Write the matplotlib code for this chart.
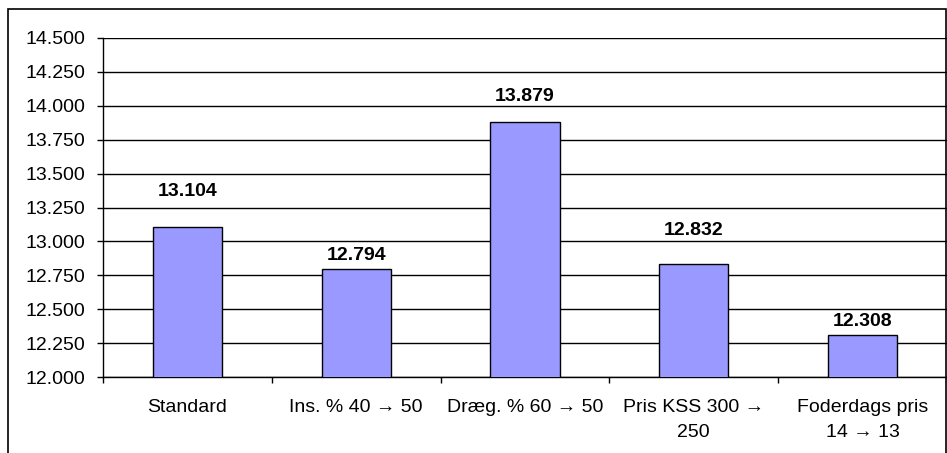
import numpy as np
import matplotlib.pyplot as plt
from matplotlib.patches import Rectangle
from matplotlib.ticker import FixedLocator, FuncFormatter

plt.rcParams['font.family'] = ['Liberation Sans', 'DejaVu Sans']

# scenario names and result per scenario
categories = ["Standard", "Ins. % 40 \u2192 50", "Dr\u00e6g. % 60 \u2192 50",
              "Pris KSS 300 \u2192\n250", "Foderdags pris\n14 \u2192 13"]
values = [13104, 12794, 13879, 12832, 12308]
yticks = [12000, 12250, 12500, 12750, 13000, 13250, 13500, 13750, 14000, 14250, 14500]

# distance (px) from bar top to label baseline, labels were placed by hand
label_gap = [31, 9, 21, 29, 9]


def dk(v, pos=None):
    # danish style thousands separator
    return f"{int(v):,}".replace(",", ".")


W, H = 947, 453
fig = plt.figure(figsize=(W / 100, H / 100), dpi=100)
ax = fig.add_axes([103 / W, 76 / H, (947 - 103) / W, (377 - 38) / H])

x = np.arange(len(categories))
ax.bar(x, values, width=0.41, color="#9999FF", edgecolor="black",
       linewidth=1, zorder=3)

for xi, v, g in zip(x, values, label_gap):
    ax.annotate(dk(v), (xi, v), xytext=(0, g), textcoords="offset pixels",
                ha="center", va="baseline", fontsize=14, fontweight="bold")

ax.set_ylim(12000, 14500)
ax.set_xlim(-0.5, len(categories) - 0.5)
ax.set_yticks(yticks)
ax.yaxis.set_major_formatter(FuncFormatter(dk))
ax.yaxis.grid(True, color="black", linewidth=1, zorder=0)

# ticks sit between the categories, labels at the centers
ax.xaxis.set_major_locator(FixedLocator(np.arange(-0.5, len(categories), 1)))
ax.xaxis.set_major_formatter(FuncFormatter(lambda v, p: ""))
ax.set_xticks(x, minor=True)
ax.set_xticklabels(categories, minor=True, fontsize=14, linespacing=1.6)
ax.tick_params(axis="x", which="minor", length=0, pad=16)
ax.tick_params(axis="x", which="major", length=4.5, width=1, direction="out")
ax.tick_params(axis="y", labelsize=14, length=4.5, width=1, direction="out", pad=8.5)

for s in ["top", "right"]:
    ax.spines[s].set_visible(False)
ax.spines["left"].set_linewidth(1)
ax.spines["bottom"].set_linewidth(1)

# outer chart frame
fig.patches.append(Rectangle((8 / W, -0.1), (946 - 8) / W, 1.1 - 9 / H,
                             transform=fig.transFigure, fill=False,
                             edgecolor="black", linewidth=1.2))

plt.savefig("out.png", dpi=100)
